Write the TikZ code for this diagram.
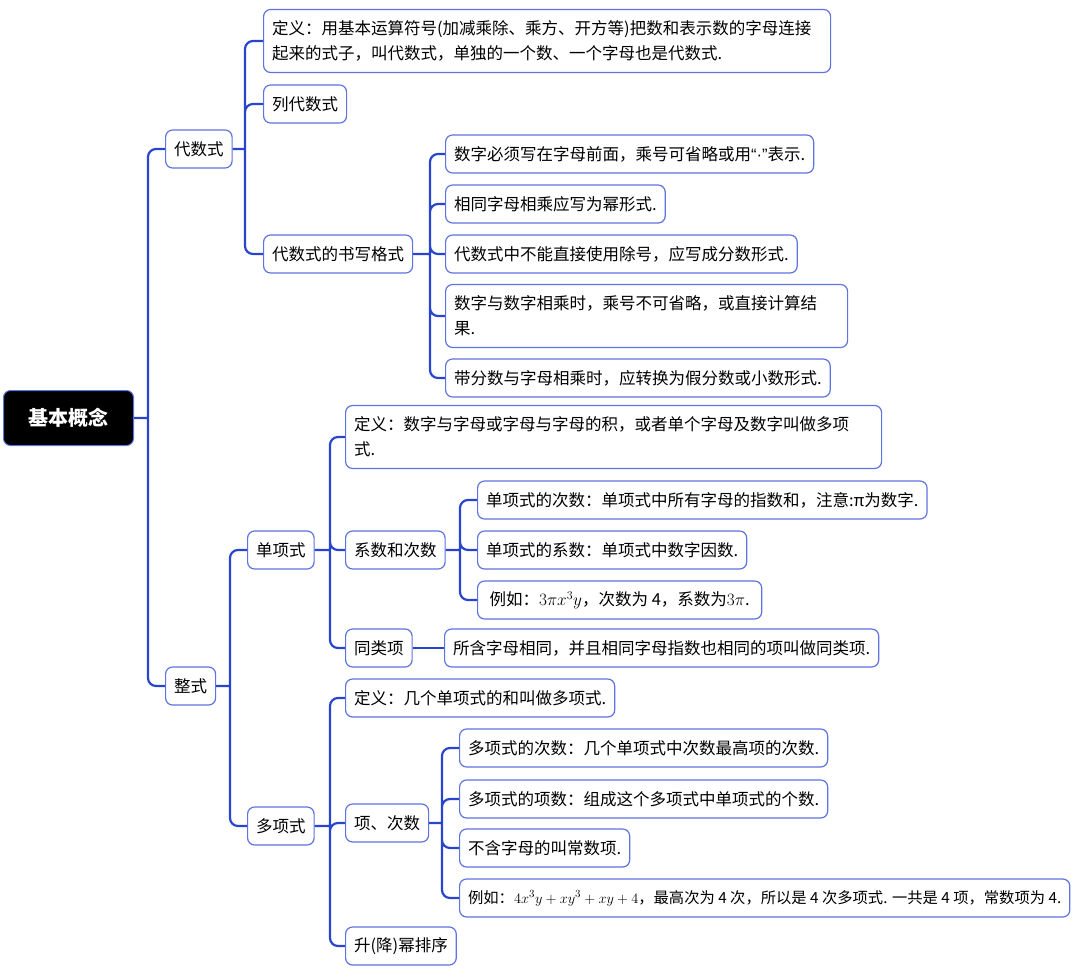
\documentclass[tikz,border=0pt]{standalone}
\usepackage{fontspec}
\setmainfont{Noto Sans CJK SC}
\newfontfamily\latinfont{Liberation Sans}
\usetikzlibrary{positioning}
\definecolor{linkblue}{RGB}{40,70,205}
\definecolor{boxblue}{RGB}{95,115,225}
\tikzset{
  topic/.style={draw=boxblue, line width=1.2pt, rounded corners=7pt, fill=white,
    anchor=west, align=left, inner xsep=8.5pt, inner ysep=4pt, minimum height=38pt,
    font=\fontsize{16.5}{25}\selectfont},
  tall/.style={minimum height=63pt},
  rootbox/.style={draw=boxblue, line width=1pt, rounded corners=7pt, fill=black,
    text=white, anchor=west, minimum width=130pt, minimum height=55pt,
    font=\fontsize{20}{24}\selectfont\bfseries},
  link/.style={draw=linkblue, line width=2.2pt, rounded corners=8pt},
}

\begin{document}
\begin{tikzpicture}[x=1pt,y=-1pt]%
      \useasboundingbox (0,0) rectangle (1080,970);
      \node[rootbox] (root) at (3,418) {基本概念};
      \node[topic] (dsh) at (165,149) {代数式};
      \node[topic] (zs) at (165,686) {整式};
      % 代数式
      \node[topic, tall, text width=550pt] (dsdy) at (263,41)
        {定义：用基本运算符号(加减乘除、乘方、开方等)把数和表示数的字母连接\\
         起来的式子，叫代数式，单独的一个数、一个字母也是代数式.};
      \node[topic] (lds) at (263,104) {列代数式};
      \node[topic] (sxgs) at (263,254) {代数式的书写格式};
      \node[topic] (gs1) at (445,154) {数字必须写在字母前面，乘号可省略或用{\latinfont “·”}表示.};
      \node[topic] (gs2) at (445,204) {相同字母相乘应写为幂形式.};
      \node[topic] (gs3) at (445,254) {代数式中不能直接使用除号，应写成分数形式.};
      \node[topic, tall, text width=385pt] (gs4) at (445,316)
        {数字与数字相乘时，乘号不可省略，或直接计算结\\果.};
      \node[topic] (gs5) at (445,378) {带分数与字母相乘时，应转换为假分数或小数形式.};
      % 整式
      \node[topic] (dxs) at (247,550) {单项式};
      \node[topic, tall, text width=519pt] (dxdy) at (345,437)
        {定义：数字与字母或字母与字母的积，或者单个字母及数字叫做多项\\式.};
      \node[topic] (xscs) at (345,550) {系数和次数};
      \node[topic] (tlx) at (345,648) {同类项};
      \node[topic] (xs1) at (477,500) {单项式的次数：单项式中所有字母的指数和，注意:π为数字.};
      \node[topic] (xs2) at (477,550) {单项式的系数：单项式中数字因数.};
      \node[topic, inner xsep=12pt] (xs3) at (477,600) {例如：$3\pi x^3y$，次数为 4，系数为$3\pi$.};
      \node[topic] (tlxd) at (444,648) {所含字母相同，并且相同字母指数也相同的项叫做同类项.};
      \node[topic] (dxsn) at (247,826) {多项式};
      \node[topic] (dxsdy) at (345,698) {定义：几个单项式的和叫做多项式.};
      \node[topic] (xcs) at (345,823) {项、次数};
      \node[topic] (sjm) at (345,946) {升(降)幂排序};
      \node[topic] (xc1) at (459,748) {多项式的次数：几个单项式中次数最高项的次数.};
      \node[topic] (xc2) at (459,799) {多项式的项数：组成这个多项式中单项式的个数.};
      \node[topic] (xc3) at (459,848) {不含字母的叫常数项.};
      \node[topic, font=\fontsize{15.3}{20}\selectfont] (xc4) at (459,898)
        {例如：$4x^3y+xy^3+xy+4$，最高次为 4 次，所以是 4 次多项式. 一共是 4 项，常数项为 4.};
      % connectors
      \coordinate (rj) at ([xshift=-17pt]dsh.west |- root.east);
      \draw[link] (root.east) -- (rj) (rj) |- (dsh.west) (rj) |- (zs.west);
      \coordinate (dshj) at ([xshift=-18pt]dsdy.west |- dsh.east);
      \draw[link] (dsh.east) -- (dshj) (dshj) |- (dsdy.west) (dshj) |- (lds.west)
        (dshj) |- (sxgs.west);
      \coordinate (gsj) at ([xshift=-15pt]gs1.west |- sxgs.east);
      \draw[link] (sxgs.east) -- (gsj) (gsj) |- (gs1.west) (gsj) |- (gs2.west)
        (gsj) |- (gs3.west) (gsj) |- (gs4.west) (gsj) |- (gs5.west);
      \coordinate (zsj) at ([xshift=-17pt]dxs.west |- zs.east);
      \draw[link] (zs.east) -- (zsj) (zsj) |- (dxs.west) (zsj) |- (dxsn.west);
      \coordinate (dxsj) at ([xshift=-15pt]dxdy.west |- dxs.east);
      \draw[link] (dxs.east) -- (dxsj) (dxsj) |- (dxdy.west) (dxsj) |- (xscs.west)
        (dxsj) |- (tlx.west);
      \coordinate (xscsj) at ([xshift=-17pt]xs1.west |- xscs.east);
      \draw[link] (xscs.east) -- (xscsj) (xscsj) |- (xs1.west) (xscsj) |- (xs2.west)
        (xscsj) |- (xs3.west);
      \draw[link] (tlx.east) -- (tlxd.west);
      \coordinate (dxsnj) at ([xshift=-15pt]dxsdy.west |- dxsn.east);
      \draw[link] (dxsn.east) -- (dxsnj) (dxsnj) |- (dxsdy.west) (dxsnj) |- (xcs.west)
        (dxsnj) |- (sjm.west);
      \coordinate (xcsj) at ([xshift=-17pt]xc1.west |- xcs.east);
      \draw[link] (xcs.east) -- (xcsj) (xcsj) |- (xc1.west) (xcsj) |- (xc2.west)
        (xcsj) |- (xc3.west) (xcsj) |- (xc4.west);
    \end{tikzpicture}
\end{document}
